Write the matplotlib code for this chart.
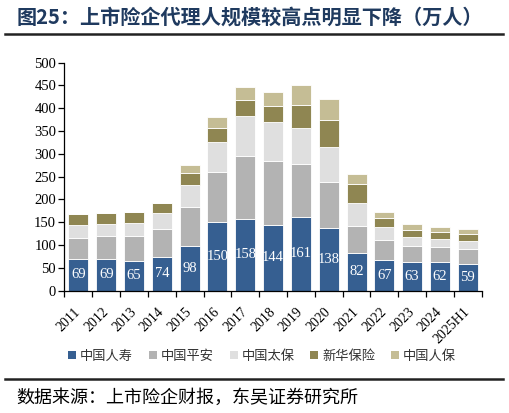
import numpy as np
import matplotlib
matplotlib.use('Agg')
import matplotlib.pyplot as plt
from matplotlib.patches import Patch
from matplotlib.lines import Line2D
from matplotlib.ticker import MultipleLocator, FixedLocator

# data (万人)
years = ['2011', '2012', '2013', '2014', '2015', '2016', '2017', '2018',
         '2019', '2020', '2021', '2022', '2023', '2024', '2025H1']
renshou = [69, 69, 65, 74, 98, 150, 158, 144, 161, 138, 82, 67, 63, 62, 59]
pingan = [46, 50, 54, 62, 85, 110, 137, 140, 117, 101, 59, 43, 34, 34, 32]
taibao = [29, 28, 30, 34, 48, 65, 87, 85, 79, 75, 52, 29, 20, 18, 18]
xinhua = [25, 23, 24, 22, 26, 32, 36, 37, 50, 61, 40, 20, 15, 14, 14]
renbao = [0, 0, 0, 0, 18, 23, 29, 29, 44, 45, 22, 13, 13, 12, 13]

series_names = ['中国人寿', '中国平安', '中国太保', '新华保险', '中国人保']
colors = ['#365F91', '#B3B3B3', '#DFDFDF', '#8F8652', '#C5BD95']

CJK = ['Noto Sans CJK SC', 'DejaVu Sans']
SERIF = ['Liberation Serif', 'DejaVu Serif']

fig = plt.figure(figsize=(5.09, 4.13), dpi=100)
ax = fig.add_axes([0.1267, 0.2966, 0.8197, 0.5516])

x = np.arange(len(years))
bottom = np.zeros(len(years))
for vals, name, c in zip([renshou, pingan, taibao, xinhua, renbao], series_names, colors):
    vals = np.array(vals, dtype=float)
    ax.bar(x, vals, width=0.72, bottom=bottom, color=c, edgecolor='white',
           linewidth=0.6, label=name)
    bottom += vals

# value labels inside the 中国人寿 segment
for xi, v in zip(x, renshou):
    ax.text(xi, v / 2, str(v), ha='center', va='center', color='white',
            fontsize=10.5, family=SERIF)

ax.set_xlim(-0.5, len(years) - 0.5)
ax.set_ylim(0, 500)
ax.yaxis.set_major_locator(MultipleLocator(50))
ax.spines['top'].set_visible(False)
ax.spines['right'].set_visible(False)
for s in ['left', 'bottom']:
    ax.spines[s].set_color('black')
    ax.spines[s].set_linewidth(0.9)

ax.set_xticks(x)
ax.set_xticklabels(years, rotation=45, ha='right', va='center',
                   rotation_mode='anchor', family=SERIF, fontsize=10)
ax.xaxis.set_minor_locator(FixedLocator(np.arange(-0.5, len(years), 1.0)))
ax.tick_params(axis='x', which='major', length=0, pad=14)
ax.tick_params(axis='x', which='minor', length=4, width=0.9, direction='out')
ax.tick_params(axis='y', length=4, width=0.9, direction='out', pad=2)
for lab in ax.get_yticklabels():
    lab.set_family(SERIF)
    lab.set_fontsize(10.5)

handles = [Patch(facecolor=c, edgecolor='none') for c in colors]
leg = fig.legend(handles, series_names, loc='center', bbox_to_anchor=(0.515, 0.138),
                 ncol=5, frameon=False, handlelength=0.6, handleheight=0.6,
                 handletextpad=0.3, columnspacing=1.2, prop={'family': CJK, 'size': 9.5})
for t in leg.get_texts():
    t.set_color('#333333')

# title, rules and source line
fig.text(0.033, 0.958, '图25：上市险企代理人规模较高点明显下降（万人）', ha='left', va='center',
         fontsize=14.5, fontweight='bold', color='#1F3A5F', family=CJK)
fig.add_artist(Line2D([0.01, 0.988], [1 - 33.5 / 413] * 2, color='#222222', linewidth=1.8))
fig.add_artist(Line2D([0.01, 0.988], [1 - 379 / 413] * 2, color='#222222', linewidth=1.8))
fig.text(0.033, 1 - 398 / 413, '数据来源：上市险企财报，东吴证券研究所', ha='left', va='center',
         fontsize=13, color='black', family=CJK)

fig.savefig('out.png', dpi=100)
